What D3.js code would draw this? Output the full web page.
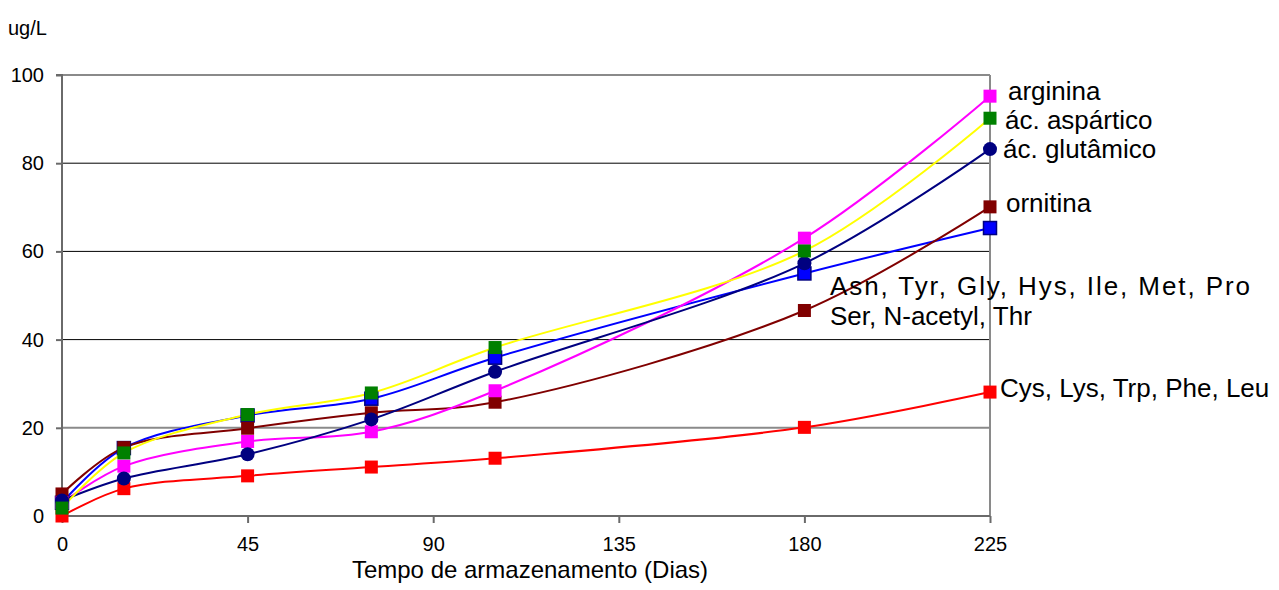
<!DOCTYPE html>
<html>
<head>
<meta charset="utf-8">
<script src="https://cdn.jsdelivr.net/npm/d3@7"></script>
<style>
  body { margin: 0; background: #fff; }
  text { font-family: "Liberation Sans", Arial, sans-serif; fill: #000; }
</style>
</head>
<body>
<div id="chart"></div>
<script>
// data
let days = [0, 15, 45, 75, 105, 180, 225];
let arginina = [3, 11.3, 16.9, 19.1, 28.4, 63, 95.2];
let acAspartico = [1.8, 14.3, 23, 27.9, 38.2, 60.1, 90.2];
let acGlutamico = [3.5, 8.5, 14, 21.9, 32.7, 57.3, 83.2];
let ornitina = [5, 15.5, 19.9, 23.4, 25.8, 46.6, 70.1];
let asnGroup = [3, 15.4, 22.8, 26.6, 35.9, 55, 65.3];
let cysGroup = [0, 6.2, 9.1, 11.1, 13.1, 20.1, 28.1];

let xTicks = [0, 45, 90, 135, 180, 225];
let yTicks = [0, 20, 40, 60, 80, 100];

// svg dimensions
let svgWidth = 1279,
  svgHeight = 590;

let chartMargins = { top: 75, right: 289, bottom: 74, left: 62 };
let chartWidth = svgWidth - chartMargins.left - chartMargins.right;
let chartHeight = svgHeight - chartMargins.top - chartMargins.bottom;

let svg = d3
  .select("#chart")
  .append("svg")
  .attr("width", svgWidth)
  .attr("height", svgHeight);

let chartGroup = svg
  .append("g")
  .attr("transform", `translate(${chartMargins.left}, ${chartMargins.top})`);

let xScale = d3.scaleLinear().domain([0, 225]).range([0, chartWidth]);
let yScale = d3.scaleLinear().domain([0, 100]).range([chartHeight, 0]);

// gridlines (the 20 line is grey in the original)
chartGroup
  .selectAll(".grid")
  .data(yTicks.slice(1, 5))
  .enter()
  .append("line")
  .attr("x1", 0)
  .attr("x2", chartWidth)
  .attr("y1", (d) => yScale(d))
  .attr("y2", (d) => yScale(d))
  .attr("stroke", (d) => (d === 20 ? "#8a8a8a" : "#000"))
  .attr("stroke-width", (d) => (d === 20 ? 2 : 1));

// plot border top / right
chartGroup
  .append("line")
  .attr("x1", 0).attr("x2", chartWidth)
  .attr("y1", 0).attr("y2", 0)
  .attr("stroke", "#8a8a8a").attr("stroke-width", 2);
chartGroup
  .append("line")
  .attr("x1", chartWidth).attr("x2", chartWidth)
  .attr("y1", 0).attr("y2", chartHeight)
  .attr("stroke", "#8a8a8a").attr("stroke-width", 2);

// axes
let leftAxis = d3.axisLeft(yScale).tickValues(yTicks).tickSize(6).tickPadding(12);
let bottomAxis = d3.axisBottom(xScale).tickValues(xTicks).tickSize(7).tickPadding(14);

let leftAxisGroup = chartGroup.append("g").call(leftAxis);
let bottomAxisGroup = chartGroup
  .append("g")
  .attr("transform", `translate(0, ${chartHeight})`)
  .call(bottomAxis);

[leftAxisGroup, bottomAxisGroup].forEach((g) => {
  g.select(".domain").attr("stroke", "#6a6a6a").attr("stroke-width", 2);
  g.selectAll(".tick line").attr("stroke", "#6a6a6a").attr("stroke-width", 2);
  g.selectAll(".tick text")
    .attr("font-family", "Liberation Sans, Arial, sans-serif")
    .attr("font-size", 20)
    .attr("fill", "#000");
});
leftAxisGroup.select(".domain").attr("d", `M-6,0H0V${chartHeight}`);
bottomAxisGroup.select(".domain").attr("d", `M0,0H${chartWidth}`);

// series settings, in drawing order
let seriesList = [
  { values: cysGroup, line: "#ff0000", fill: "#ff0000", stroke: "#ff0000", shape: "square" },
  { values: asnGroup, line: "#0000ff", fill: "#0000ff", stroke: "#000080", shape: "square" },
  { values: ornitina, line: "#800000", fill: "#800000", stroke: "#800000", shape: "square" },
  { values: arginina, line: "#ff00ff", fill: "#ff00ff", stroke: "#ff00ff", shape: "square" },
  { values: acGlutamico, line: "#000080", fill: "#000080", stroke: "#000080", shape: "circle" },
  { values: acAspartico, line: "#ffff00", fill: "#008000", stroke: "#008000", shape: "square" },
];

let lineGen = d3
  .line()
  .x((d) => xScale(d.x))
  .y((d) => yScale(d.y))
  .curve(d3.curveCatmullRom.alpha(0.5));

seriesList.forEach((s) => {
  s.points = days.map((x, i) => ({ x: x, y: s.values[i] }));
});

chartGroup
  .selectAll(".seriesLine")
  .data(seriesList)
  .enter()
  .append("path")
  .classed("seriesLine", true)
  .attr("d", (s) => lineGen(s.points))
  .attr("fill", "none")
  .attr("stroke", (s) => s.line)
  .attr("stroke-width", 2);

seriesList.forEach((s) => {
  let g = chartGroup.append("g");
  if (s.shape === "circle") {
    g.selectAll("circle")
      .data(s.points)
      .enter()
      .append("circle")
      .attr("cx", (d) => xScale(d.x))
      .attr("cy", (d) => yScale(d.y))
      .attr("r", 7)
      .attr("fill", s.fill);
  } else {
    g.selectAll("rect")
      .data(s.points)
      .enter()
      .append("rect")
      .attr("x", (d) => xScale(d.x) - 6.5)
      .attr("y", (d) => yScale(d.y) - 6.5)
      .attr("width", 13)
      .attr("height", 13)
      .attr("fill", s.fill)
      .attr("stroke", s.stroke)
      .attr("stroke-width", s.fill === s.stroke ? 0 : 1.5);
  }
});

// series labels, written in page coordinates
let seriesLabels = [
  { text: "arginina", x: 1008, y: 100 },
  { text: "ác. aspártico", x: 1005, y: 129 },
  { text: "ác. glutâmico", x: 1003, y: 158 },
  { text: "ornitina", x: 1006, y: 212 },
  { text: "Asn, Tyr, Gly, Hys, Ile, Met, Pro", x: 830, y: 295, width: 420 },
  { text: "Ser, N-acetyl, Thr", x: 830, y: 325 },
  { text: "Cys, Lys, Trp, Phe, Leu", x: 1000, y: 397 },
];

seriesLabels.forEach((l) => {
  let t = svg
    .append("text")
    .attr("x", l.x)
    .attr("y", l.y)
    .attr("font-size", 26)
    .text(l.text);
  if (l.width) t.attr("textLength", l.width).attr("lengthAdjust", "spacing");
});

// unit label and axis title
svg.append("text").attr("x", 8).attr("y", 35).attr("font-size", 20).text("ug/L");

svg
  .append("text")
  .attr("x", 530)
  .attr("y", 578)
  .attr("text-anchor", "middle")
  .attr("font-size", 24)
  .text("Tempo de armazenamento (Dias)");
</script>
</body>
</html>
